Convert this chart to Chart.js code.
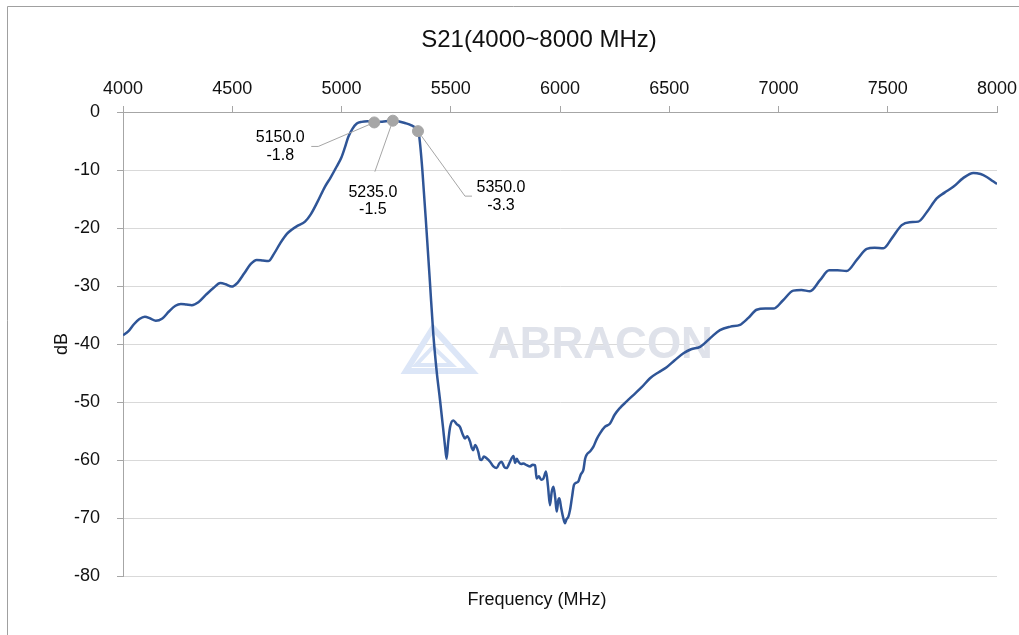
<!DOCTYPE html>
<html>
<head>
<meta charset="utf-8">
<script src="https://cdn.jsdelivr.net/npm/chart.js@4"></script>
<style>
    body { margin: 0; background: #fff; }
    #wrap { width: 1019px; height: 635px; position: relative; }
</style>
</head>
<body>
<div id="wrap"><canvas id="chart"></canvas></div>
<script>
var freq = [
    4000, 4025, 4050, 4075, 4100, 4125, 4150, 4180, 4210, 4240, 4265, 4290, 4315, 4345, 4380, 4415, 4445, 4470, 4497,
    4525, 4555, 4585, 4612, 4640, 4665, 4690, 4720, 4750, 4772, 4800, 4833, 4860, 4890, 4924, 4950, 4978, 5000, 5015,
    5031, 5050, 5070, 5092, 5120, 5150, 5180, 5210, 5235, 5260, 5290, 5320, 5340, 5350, 5356, 5370, 5390, 5405, 5420,
    5435, 5451, 5465, 5474, 5481, 5488, 5497, 5512, 5527, 5542, 5555, 5565, 5575, 5588, 5596, 5603, 5612, 5626, 5634,
    5641, 5652, 5664, 5680, 5695, 5710, 5722, 5733, 5745, 5756, 5770, 5787, 5795, 5802, 5810, 5822, 5832, 5848, 5863,
    5875, 5886, 5893, 5903, 5914, 5924, 5936, 5945, 5954, 5962, 5970, 5978, 5985, 5992, 5997, 6005, 6015, 6023, 6030,
    6038, 6046, 6055, 6064, 6075, 6084, 6095, 6107, 6115, 6122, 6138, 6153, 6168, 6183, 6205, 6229, 6250, 6275, 6305,
    6336, 6375, 6412, 6450, 6488, 6525, 6565, 6600, 6641, 6690, 6732, 6780, 6824, 6862, 6900, 6940, 6977, 7020, 7068,
    7105, 7144, 7190, 7232, 7270, 7312, 7360, 7404, 7440, 7480, 7520, 7564, 7600, 7640, 7680, 7724, 7760, 7800, 7845,
    7892, 7925, 7953, 7980, 8000
];
var s21 = [
    -38.5, -37.8, -36.6, -35.7, -35.3, -35.6, -36.0, -35.6, -34.4, -33.4, -33.1, -33.2, -33.3, -32.8, -31.5, -30.3, -29.5, -29.7, -30.1,
    -29.4, -27.8, -26.2, -25.5, -25.6, -25.7, -24.5, -22.6, -21.0, -20.3, -19.6, -18.9, -17.6, -15.5, -12.9, -11.3, -9.4, -7.8, -6.2,
    -4.3, -2.9, -2.0, -1.7, -1.6, -1.8, -1.7, -1.55, -1.5, -1.6, -1.9, -2.3, -2.8, -3.3, -4.3, -10.0, -20.9, -29.5, -38.2,
    -44.5, -49.7, -54.5, -57.7, -59.8, -57.0, -54.3, -53.2, -53.8, -54.3, -55.6, -56.3, -55.9, -56.8, -57.9, -58.3, -57.4, -58.6, -59.9,
    -60.0, -59.4, -59.7, -60.3, -61.1, -61.4, -60.6, -60.3, -61.2, -61.4, -60.4, -59.3, -60.5, -59.8, -60.3, -60.7, -60.6, -60.9, -61.1,
    -60.8, -60.9, -63.2, -62.8, -63.4, -63.2, -62.0, -64.5, -67.8, -65.5, -64.6, -66.5, -68.9, -67.0, -66.6, -68.2, -70.0, -70.9, -70.2,
    -69.8, -68.6, -66.4, -64.3, -63.9, -63.7, -62.5, -61.7, -59.8, -59.1, -58.5, -57.7, -56.4, -55.4, -54.3, -53.7, -52.2, -51.0, -49.9,
    -48.8, -47.4, -45.9, -44.9, -44.0, -42.8, -41.6, -40.9, -40.5, -38.9, -37.6, -37.0, -36.7, -35.5, -34.1, -33.9, -33.9, -32.5, -30.8,
    -30.7, -30.9, -29.0, -27.3, -27.3, -27.4, -25.4, -23.6, -23.4, -23.5, -21.7, -19.5, -19.0, -18.9, -17.2, -14.9, -13.9, -12.9, -11.4,
    -10.5, -10.7, -11.2, -11.9, -12.4
];

// marked points with data labels
var markFreq = [5150, 5235, 5350];
var markDb = [-1.8, -1.5, -3.3];

var xTicks = [4000, 4500, 5000, 5500, 6000, 6500, 7000, 7500, 8000];
var yTicks = [0, -10, -20, -30, -40, -50, -60, -70, -80];

var chartTitle = 'S21(4000~8000 MHz)';
var xTitle = 'Frequency (MHz)';

var FONT = "'Liberation Sans', Arial, sans-serif";
var AXIS_GREY = '#a6a6a6';

var curve = freq.map(function(f, i) { return { x: f, y: s21[i] }; });
var marks = markFreq.map(function(f, i) { return { x: f, y: markDb[i] }; });

// outer frame, chart title and x axis title
var framePlugin = {
    id: 'frame',
    beforeDraw: function(chart) {
        var ctx = chart.ctx;
        ctx.save();
        ctx.fillStyle = '#fff';
        ctx.fillRect(0, 0, chart.width, chart.height);
        ctx.strokeStyle = '#a0a0a0';
        ctx.lineWidth = 1;
        ctx.beginPath();
        ctx.moveTo(7.5, chart.height);
        ctx.lineTo(7.5, 6.5);
        ctx.lineTo(chart.width, 6.5);
        ctx.stroke();

        ctx.fillStyle = '#111';
        ctx.textAlign = 'center';
        ctx.textBaseline = 'middle';
        ctx.font = '24px ' + FONT;
        ctx.fillText(chartTitle, 539, 40);
        ctx.font = '18px ' + FONT;
        ctx.fillText(xTitle, 537, 600);
        ctx.restore();
    }
};

// faint ABRACON watermark behind the curve
var watermarkPlugin = {
    id: 'watermark',
    beforeDatasetsDraw: function(chart) {
        var ctx = chart.ctx;
        ctx.save();
        ctx.strokeStyle = '#dce6f7';
        ctx.lineWidth = 6;
        ctx.lineJoin = 'miter';
        ctx.beginPath();
        ctx.moveTo(433, 328);
        ctx.lineTo(472, 371);
        ctx.lineTo(406, 371);
        ctx.closePath();
        ctx.stroke();
        ctx.lineWidth = 4;
        ctx.beginPath();
        ctx.moveTo(433, 347);
        ctx.lineTo(452, 365);
        ctx.lineTo(416, 365);
        ctx.closePath();
        ctx.stroke();
        ctx.fillStyle = '#dfe2ea';
        ctx.font = 'bold 44px ' + FONT;
        ctx.textBaseline = 'middle';
        ctx.textAlign = 'left';
        ctx.fillText('ABRACON', 488, 346);
        ctx.restore();
    }
};

// data labels with leader lines for the marked points
var labelPlugin = {
    id: 'markLabels',
    afterDatasetsDraw: function(chart) {
        var ctx = chart.ctx;
        var pts = chart.getDatasetMeta(1).data;
        var offs = [[-94, 24], [-20, 80], [83, 65]];
        ctx.save();
        ctx.strokeStyle = AXIS_GREY;
        ctx.lineWidth = 1;
        ctx.font = '16px ' + FONT;
        ctx.fillStyle = '#000';
        ctx.textAlign = 'center';
        ctx.textBaseline = 'middle';
        pts.forEach(function(p, i) {
            var lx = p.x + offs[i][0];
            var ly = p.y + offs[i][1];
            ctx.beginPath();
            if (i === 0) {
                ctx.moveTo(lx + 31, ly);
                ctx.lineTo(lx + 38, ly);
                ctx.lineTo(p.x, p.y);
            } else if (i === 1) {
                ctx.moveTo(lx + 2, ly - 29);
                ctx.lineTo(p.x, p.y);
            } else {
                ctx.moveTo(lx - 29, ly);
                ctx.lineTo(lx - 36, ly);
                ctx.lineTo(p.x, p.y);
            }
            ctx.stroke();
            ctx.fillText(markFreq[i].toFixed(1), lx, ly - 8.5);
            ctx.fillText(markDb[i].toFixed(1), lx, ly + 9);
        });
        ctx.restore();
    }
};

new Chart(document.getElementById('chart'), {
    type: 'line',
    data: {
        datasets: [{
            data: curve,
            borderColor: '#2f5597',
            borderWidth: 2.5,
            pointRadius: 0,
            cubicInterpolationMode: 'monotone',
            order: 1
        }, {
            data: marks,
            showLine: false,
            pointRadius: 5.5,
            pointBackgroundColor: '#a6a6a6',
            pointBorderColor: '#a6a6a6',
            order: 0
        }]
    },
    options: {
        responsive: true,
        maintainAspectRatio: false,
        animation: false,
        layout: { padding: { left: 0, right: 22, top: 0, bottom: 59 } },
        plugins: {
            legend: { display: false },
            tooltip: { enabled: false },
            title: { display: false }
        },
        scales: {
            x: {
                type: 'linear',
                position: 'top',
                min: 4000,
                max: 8000,
                afterBuildTicks: function(scale) {
                    scale.ticks = xTicks.map(function(v) { return { value: v }; });
                },
                afterFit: function(scale) {
                    scale.height = 112;
                    scale.paddingLeft = 0;
                    scale.paddingRight = 0;
                },
                ticks: {
                    color: '#111',
                    padding: 6,
                    font: { family: FONT, size: 18 },
                    callback: function(v) { return String(v); }
                },
                grid: { drawOnChartArea: false, tickLength: 6, tickColor: AXIS_GREY },
                border: { color: AXIS_GREY, width: 1 }
            },
            y: {
                type: 'linear',
                min: -80,
                max: 0,
                afterBuildTicks: function(scale) {
                    scale.ticks = yTicks.map(function(v) { return { value: v }; });
                },
                afterFit: function(scale) {
                    scale.width = 123;
                    scale.paddingTop = 0;
                    scale.paddingBottom = 0;
                },
                ticks: {
                    color: '#111',
                    padding: 17,
                    font: { family: FONT, size: 18 },
                    callback: function(v) { return String(v); }
                },
                grid: { color: '#d9d9d9', tickLength: 6, tickColor: AXIS_GREY },
                border: { color: AXIS_GREY, width: 1 },
                title: {
                    display: true,
                    text: 'dB',
                    color: '#111',
                    font: { family: FONT, size: 18 },
                    padding: { top: 51, bottom: 0 }
                }
            }
        }
    },
    plugins: [framePlugin, watermarkPlugin, labelPlugin]
});
</script>
</body>
</html>
